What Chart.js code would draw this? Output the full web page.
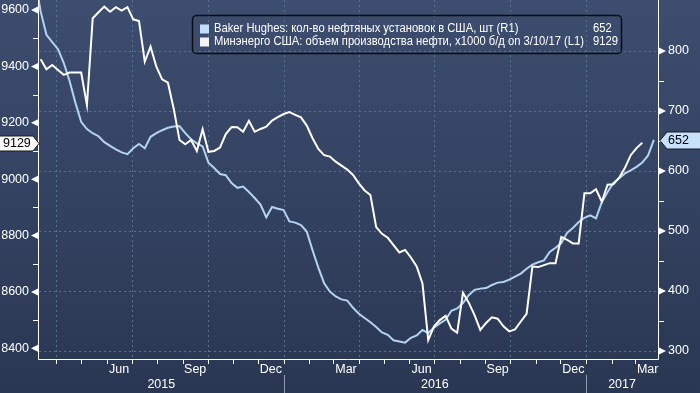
<!DOCTYPE html>
<html><head><meta charset="utf-8">
<script src="https://cdn.jsdelivr.net/npm/chart.js@4.4.1/dist/chart.umd.min.js"></script>
<style>html,body{margin:0;padding:0;background:#33425f;overflow:hidden}canvas{display:block}</style>
</head><body>
<canvas id="c" width="700" height="393"></canvas>
<script>
// ---- data (weekly, Fridays) ----
const rigStart = '2015-03-06';
const rigCount = [922, 866, 827, 815, 803, 780, 750, 714, 682, 670,
 663, 658, 648, 642, 636, 631, 628, 638, 645, 638,
 657, 663, 668, 672, 674, 675, 663, 653, 646, 641,
 614, 605, 595, 593, 580, 572, 574, 565, 555, 544,
 523, 540, 537, 535, 516, 514, 510, 499, 468, 439,
 413, 399, 391, 386, 384, 372, 362, 355, 348, 340,
 331, 327, 318, 316, 314, 322, 326, 335, 330, 339,
 346, 352, 367, 371, 380, 393, 402, 404, 405, 410,
 414, 415, 419, 424, 429, 437, 444, 448, 451, 465,
 472, 480, 497, 505, 515, 522, 526, 521, 548, 565,
 580, 588, 596, 601, 607, 614, 626, 652];
const oilStart = '2015-03-13';
const oilOutput = [9425, 9390, 9405, 9387, 9370, 9378, 9378, 9378, 9263, 9571,
 9592, 9612, 9594, 9610, 9598, 9610, 9567, 9561, 9417, 9470,
 9399, 9354, 9342, 9250, 9139, 9124, 9139, 9100, 9177, 9097,
 9100, 9112, 9160, 9185, 9184, 9168, 9207, 9168, 9178, 9186,
 9208, 9220, 9231, 9238, 9228, 9219, 9190, 9145, 9107, 9085,
 9080, 9062, 9048, 9034, 9015, 8985, 8960, 8944, 8830, 8806,
 8792, 8766, 8740, 8749, 8722, 8690, 8630, 8429, 8478, 8500,
 8515, 8470, 8455, 8597, 8562, 8518, 8465, 8490, 8510, 8505,
 8478, 8460, 8467, 8495, 8522, 8690, 8688, 8695, 8702, 8702,
 8795, 8785, 8772, 8772, 8950, 8950, 8964, 8920, 8980, 8982,
 9005, 9040, 9085, 9110, 9129];
const leftTicks = [8400, 8600, 8800, 9000, 9200, 9400, 9600];
const rightTicks = [300, 400, 500, 600, 700, 800];
const monthNames = ['Jan','Feb','Mar','Apr','May','Jun','Jul','Aug','Sep','Oct','Nov','Dec'];
const labeledMonths = ['Mar','Jun','Sep','Dec'];
const yearLabels = ['2015','2016','2017'];
const legendItems = [
  {text:'Baker Hughes: кол-во нефтяных установок в США, шт (R1)', value:'652', color:'#c2dffb'},
  {text:'Минэнерго США: объем производства нефти, x1000 б/д on 3/10/17 (L1)', value:'9129', color:'#f4f4f4'}
];
const lastRig = '652', lastOil = '9129';

// ---- helpers ----
const BASE = Date.UTC(2015,0,1);
const dayOf = (y,m,d) => (Date.UTC(y,m,d) - BASE)/864e5;
const dayStr = s => (Date.parse(s+'T00:00:00Z') - BASE)/864e5;
function weekly(start, vals){ const d0 = dayStr(start); return vals.map((v,i)=>({x:d0+7*i, y:v})); }

const X_MIN = 69, X_MAX = 818;
const FONT = '"Liberation Sans", Arial, sans-serif';

const deco = {
  id:'deco',
  beforeDraw(chart){
    const ctx = chart.ctx;
    const g = ctx.createLinearGradient(0,0,0,393);
    g.addColorStop(0,'#3d4d6f'); g.addColorStop(1,'#2a3753');
    ctx.save(); ctx.fillStyle = g; ctx.fillRect(0,0,chart.width,chart.height); ctx.restore();
  },
  beforeDatasetsDraw(chart){
    const {ctx, chartArea:a, scales} = chart;
    const xs = scales.x, yR = scales.yR;
    ctx.save();
    ctx.strokeStyle = '#55758f'; ctx.lineWidth = 1; ctx.setLineDash([2,3]);
    rightTicks.forEach(v=>{ const y = Math.round(yR.getPixelForValue(v))+0.5;
      ctx.beginPath(); ctx.moveTo(a.left,y); ctx.lineTo(a.right,y); ctx.stroke(); });
    for (let y=2015;y<=2017;y++) for (let m=0;m<12;m+=3){
      const d = dayOf(y,m,1); if (d<=X_MIN||d>=X_MAX) continue;
      const x = Math.round(xs.getPixelForValue(d))+0.5;
      ctx.beginPath(); ctx.moveTo(x,a.top); ctx.lineTo(x,a.bottom); ctx.stroke();
    }
    ctx.restore();
  },
  afterDatasetsDraw(chart){
    const {ctx, chartArea:a, scales} = chart;
    const xs = scales.x, yL = scales.yL, yR = scales.yR;
    ctx.save();
    // axis lines
    ctx.strokeStyle = '#ffffff'; ctx.lineWidth = 1;
    ctx.beginPath();
    ctx.moveTo(a.left-0.5, a.top); ctx.lineTo(a.left-0.5, a.bottom+0.5);
    ctx.lineTo(a.right+0.5, a.bottom+0.5); ctx.lineTo(a.right+0.5, a.top);
    ctx.stroke();
    ctx.fillStyle = '#ffffff';
    ctx.font = '12.5px ' + FONT; ctx.textBaseline = 'middle';
    // left ticks
    leftTicks.forEach((v,i)=>{
      const y = yL.getPixelForValue(v);
      ctx.beginPath(); ctx.moveTo(a.left-1, y-3.5); ctx.lineTo(a.left-8, y); ctx.lineTo(a.left-1, y+3.5); ctx.closePath(); ctx.fill();
      ctx.textAlign = 'right'; ctx.fillText(String(v), a.left-10, y);
      if (i < leftTicks.length-1){
        const ym = Math.round(yL.getPixelForValue((v+leftTicks[i+1])/2))+0.5;
        ctx.beginPath(); ctx.moveTo(a.left-6, ym); ctx.lineTo(a.left, ym); ctx.stroke();
      }
    });
    // right ticks
    rightTicks.forEach((v,i)=>{
      const y = yR.getPixelForValue(v);
      ctx.beginPath(); ctx.moveTo(a.right+1, y-3.5); ctx.lineTo(a.right+8, y); ctx.lineTo(a.right+1, y+3.5); ctx.closePath(); ctx.fill();
      ctx.textAlign = 'left'; ctx.fillText(String(v), a.right+10, y);
      if (i < rightTicks.length-1){
        const ym = Math.round(yR.getPixelForValue((v+rightTicks[i+1])/2))+0.5;
        ctx.beginPath(); ctx.moveTo(a.right, ym); ctx.lineTo(a.right+6, ym); ctx.stroke();
      }
    });
    // month ticks + labels
    ctx.textAlign = 'center';
    for (let y=2015;y<=2017;y++) for (let m=0;m<12;m++){
      const d = dayOf(y,m,1), dn = dayOf(y,m+1,1);
      if (d>X_MIN && d<X_MAX){
        const x = Math.round(xs.getPixelForValue(d))+0.5;
        ctx.beginPath(); ctx.moveTo(x, a.bottom+1); ctx.lineTo(x, a.bottom+5); ctx.stroke();
      }
      if (labeledMonths.includes(monthNames[m]) && d>=X_MIN && dn<=X_MAX+10){
        ctx.fillText(monthNames[m], xs.getPixelForValue((d+dn)/2), a.bottom+11);
      }
    }
    // years
    yearLabels.forEach(ys=>{
      const y = +ys;
      const s = Math.max(X_MIN, dayOf(y,0,1)), e = Math.min(X_MAX, dayOf(y+1,0,1));
      ctx.fillStyle = '#ffffff';
      ctx.fillText(ys, (xs.getPixelForValue(s)+xs.getPixelForValue(e))/2, a.bottom+26);
      const d0 = dayOf(y,0,1);
      if (d0>X_MIN && d0<X_MAX){
        const x = Math.round(xs.getPixelForValue(d0))+0.5;
        ctx.strokeStyle = '#8e9ab0';
        ctx.beginPath(); ctx.moveTo(x, a.bottom+16); ctx.lineTo(x, chart.height); ctx.stroke();
        ctx.strokeStyle = '#ffffff';
      }
    });
    // value tags
    ctx.lineWidth = 1; ctx.strokeStyle = '#1a1a1a';
    let y = Math.round(yL.getPixelForValue(+lastOil))+0.5;
    ctx.beginPath(); ctx.moveTo(-2,y-7.5); ctx.lineTo(a.left-6,y-7.5); ctx.lineTo(a.left,y); ctx.lineTo(a.left-6,y+7.5); ctx.lineTo(-2,y+7.5); ctx.closePath();
    ctx.fillStyle = '#f8f8f8'; ctx.fill(); ctx.stroke();
    ctx.fillStyle = '#000'; ctx.textAlign = 'left'; ctx.fillText(lastOil, 3, y+0.5);
    y = Math.round(yR.getPixelForValue(+lastRig))+0.5;
    ctx.beginPath(); ctx.moveTo(chart.width+2,y-8.5); ctx.lineTo(a.right+9,y-8.5); ctx.lineTo(a.right+2,y); ctx.lineTo(a.right+9,y+8.5); ctx.lineTo(chart.width+2,y+8.5); ctx.closePath();
    ctx.fillStyle = '#c5e1fb'; ctx.fill(); ctx.stroke();
    ctx.fillStyle = '#000'; ctx.fillText(lastRig, a.right+10, y+0.5);
    // legend
    ctx.strokeStyle = '#0b0c12'; ctx.lineWidth = 1.5;
    ctx.beginPath(); ctx.roundRect(192.5, 15.5, 429, 38, 4); ctx.stroke();
    ctx.font = '12px ' + FONT;
    const natural = ctx.measureText(legendItems[1].text).width;
    const sx = 370 / natural;
    legendItems.forEach((it,i)=>{
      const cy = 29 + i*13;
      ctx.fillStyle = it.color; ctx.fillRect(200, cy-4.5, 9, 9);
      ctx.fillStyle = '#ffffff';
      ctx.save(); ctx.translate(214, cy); ctx.scale(sx,1); ctx.textAlign='left'; ctx.fillText(it.text, 0, 0); ctx.restore();
      ctx.save(); ctx.translate(593, cy); ctx.scale(sx,1); ctx.fillText(it.value, 0, 0); ctx.restore();
    });
    ctx.restore();
  }
};

new Chart(document.getElementById('c'), {
  type:'line',
  data:{ datasets:[
    {label:'oil', data: weekly(oilStart, oilOutput), yAxisID:'yL', borderColor:'#ffffff', borderWidth:2, pointRadius:0, tension:0},
    {label:'rigs', data: weekly(rigStart, rigCount), yAxisID:'yR', borderColor:'#b3d3f3', borderWidth:2, pointRadius:0, tension:0}
  ]},
  options:{
    responsive:false, animation:false, devicePixelRatio:1,
    layout:{padding:0},
    plugins:{legend:{display:false}, tooltip:{enabled:false}},
    scales:{
      x:{type:'linear', min:X_MIN, max:X_MAX, ticks:{display:false}, grid:{display:false}, border:{display:false},
         afterFit(s){ s.height = 34; s.paddingLeft = 0; s.paddingRight = 0; }},
      yL:{type:'linear', position:'left', min:8362, max:9635.5, ticks:{display:false}, grid:{display:false}, border:{display:false},
         afterFit(s){ s.width = 39; s.paddingTop = 0; s.paddingBottom = 0; }},
      yR:{type:'linear', position:'right', min:286.7, max:885, ticks:{display:false}, grid:{display:false}, border:{display:false},
         afterFit(s){ s.width = 42; s.paddingTop = 0; s.paddingBottom = 0; }}
    }
  },
  plugins:[deco]
});
</script>
</body></html>
